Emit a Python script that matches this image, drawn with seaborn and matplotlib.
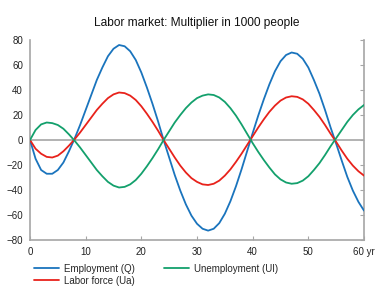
import numpy as np
import pandas as pd
import matplotlib
matplotlib.use("Agg")
import matplotlib.pyplot as plt
import seaborn as sns

years = list(range(0, 61))
employment = [0, -15, -24, -27, -27, -24, -18, -9, 1, 12, 24, 36, 48, 58, 67, 73, 76, 75, 71, 64,
              54, 42, 29, 15, 0, -14, -28, -40.5, -51.5, -60.5, -67, -71, -72.5, -71, -66.5, -59, -49, -37, -23.5, -9,
              5.5, 19.5, 32.5, 44.5, 55, 63, 68, 70, 69, 65, 58, 48, 37, 24, 10, -3, -16.5, -29.5, -40.5, -49.5,
              -56.5]
labor_force = [0, -7, -11, -13.5, -14, -12.5, -9, -4.5, 0.5, 6, 12, 18, 24, 29, 33.5, 36.5, 38, 37.5, 35.5, 32,
               27, 21, 14.5, 7.5, 0, -7, -14, -20.5, -26, -30.5, -33.5, -35.5, -36, -35, -32.5, -28.5, -23.5, -17.5, -11, -4,
               3, 10, 16.5, 22.5, 27.5, 31.5, 34, 35, 34.5, 32.5, 29, 24, 18.5, 12, 5, -1.5, -8.5, -15, -20.5, -25,
               -28.5]
unemployment = [0, 8, 12.5, 14, 13.5, 12, 9, 4.5, -0.5, -6, -12, -18, -24, -29, -33.5, -36.5, -38, -37.5, -35.5, -32,
                -27, -21, -14.5, -7.5, 0, 7, 14, 20, 25.5, 30, 33.5, 35.5, 36.5, 36, 34, 30.5, 25.5, 19.5, 12.5, 5,
                -2.5, -9.5, -16, -22, -27.5, -31.5, -34, -35, -34.5, -32.5, -29, -24, -18.5, -12, -5, 1.5, 8, 14.5, 20, 24.5,
                28]

names = ["Employment (Q)", "Labor force (Ua)", "Unemployment (UI)"]
colors = ["#1a74bd", "#e8221b", "#13a06c"]
x_ticks = [0, 10, 20, 30, 40, 50, 60]
x_tick_labels = ["0", "10", "20", "30", "40", "50", "60 yr"]
y_ticks = [-80, -60, -40, -20, 0, 20, 40, 60, 80]

df = pd.DataFrame({
    "year": years * 3,
    "value": employment + labor_force + unemployment,
    "series": [names[0]] * len(years) + [names[1]] * len(years) + [names[2]] * len(years),
})

sns.set_style("white")
plt.rcParams["font.family"] = ["Liberation Sans", "DejaVu Sans"]

fig = plt.figure(figsize=(3.84, 2.92), dpi=100)
ax = fig.add_axes([30 / 384, 1 - 240 / 292, 334 / 384, 200 / 292])

ax.axhline(0, color="#a6a6a6", lw=1.2, zorder=1)
sns.lineplot(data=df, x="year", y="value", hue="series", hue_order=names,
             palette=colors, ax=ax, lw=1.3, zorder=3)

ax.set_xlim(0, 60)
ax.set_ylim(-80, 80)
ax.set_xticks(x_ticks)
ax.set_xticklabels(x_tick_labels)
ax.set_yticks(y_ticks)
ax.set_xlabel("")
ax.set_ylabel("")

for side in ["left", "right", "bottom"]:
    ax.spines[side].set_color("#a6a6a6")
    ax.spines[side].set_linewidth(1.2)
ax.spines["top"].set_visible(False)

ax.tick_params(axis="both", direction="in", length=3, color="#a6a6a6",
               labelsize=7, labelcolor="#222222", pad=5)
ax.tick_params(axis="y", right=True, labelright=False)
ax.tick_params(axis="x", bottom=True)

ax.set_title("Labor market: Multiplier in 1000 people", fontsize=8.6, color="#111111", pad=10)

handles, labels = ax.get_legend_handles_labels()
ax.legend(handles, labels, ncol=2, loc="upper left", bbox_to_anchor=(0.0, -0.1),
          frameon=False, fontsize=7, handlelength=2.6, columnspacing=3.0,
          labelspacing=0.2, handletextpad=0.5, borderaxespad=0)

fig.savefig("out.png", dpi=100)
